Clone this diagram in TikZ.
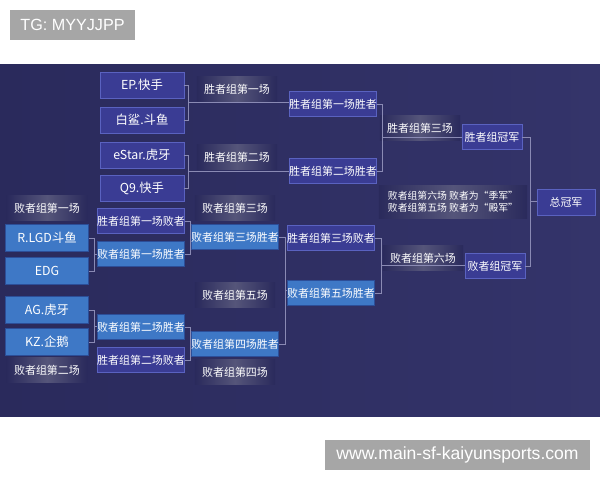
\documentclass[tikz,border=0pt]{standalone}
\usepackage{fontspec}
\setmainfont{Noto Sans CJK SC}
\newfontfamily\tagfont{Liberation Sans}
\usetikzlibrary{calc}
\definecolor{panelbg}{HTML}{2A2A5C}
\definecolor{panelbgr}{HTML}{34346A}
\definecolor{winfill}{HTML}{3A3C94}
\definecolor{windraw}{HTML}{5A62C0}
\definecolor{losefill}{HTML}{3E78C6}
\definecolor{losedraw}{HTML}{2C4E98}
\definecolor{glowc}{HTML}{55557A}
\definecolor{linec}{HTML}{8A8AB4}
\definecolor{tagfill}{HTML}{A6A6A6}

\begin{document}
\begin{tikzpicture}[
  x=0.025cm, y=-0.025cm,
  font=\fontsize{7.8}{9.5}\selectfont, text=white,
  winbox/.style={rectangle, minimum height=6.3mm, minimum width=21mm, inner sep=0pt, draw=windraw, fill=winfill, line width=0.6pt},
  losebox/.style={winbox, draw=losedraw, fill=losefill},
  teamwin/.style={winbox, minimum height=6.5mm, font=\fontsize{8.8}{10}\selectfont},
  teamlose/.style={losebox, minimum height=6.6mm, minimum width=20.8mm, font=\fontsize{8.8}{10}\selectfont},
  roundlbl/.style={rectangle, minimum height=6mm, minimum width=20mm, inner sep=0pt, left color=panelbg, right color=panelbg, middle color=glowc},
  bline/.style={draw=linec, line width=0.5pt},
  tagbox/.style={rectangle, inner sep=0pt, minimum height=7.5mm, fill=tagfill, text=white}
]
\useasboundingbox (0,0) rectangle (600,480);
\shade[left color=panelbg, right color=panelbgr] (0,64) rectangle (600,416);

\node[tagbox, minimum width=31.25mm, font=\tagfont\fontsize{11.5}{12}\selectfont] (tag) at (72.5,25) {TG: MYYJJPP};
\node[tagbox, minimum width=66.25mm, font=\tagfont\fontsize{12.5}{13}\selectfont] (site) at (457.5,455) {www.main-sf-kaiyunsports.com};

\node[teamwin] (ep) at (142,85) {EP.快手};
\node[teamwin] (bs) at (142,120) {白鲨.斗鱼};
\node[teamwin] (es) at (142,155) {eStar.虎牙};
\node[teamwin] (q9) at (142,188) {Q9.快手};
\node[teamlose] (rlgd) at (47,238) {R.LGD斗鱼};
\node[teamlose] (edg) at (47,271) {EDG};
\node[teamlose] (ag) at (47,310) {AG.虎牙};
\node[teamlose] (kz) at (47,342) {KZ.企鹅};

\node[winbox] (wl1) at (141,221) {胜者组第一场败者};
\node[losebox] (lw1) at (141,254) {败者组第一场胜者};
\node[losebox] (lw2) at (141,327) {败者组第二场胜者};
\node[winbox] (wl2) at (141,360) {胜者组第二场败者};
\node[losebox] (lw3) at (235,237) {败者组第三场胜者};
\node[losebox] (lw4) at (235,344) {败者组第四场胜者};

\node[winbox, minimum width=21.8mm] (ww1) at (333,104) {胜者组第一场胜者};
\node[winbox, minimum width=21.8mm] (ww2) at (333,171) {胜者组第二场胜者};
\node[winbox] (wl3) at (331,238) {胜者组第三场败者};
\node[losebox] (lw5) at (331,293) {败者组第五场胜者};

\node[winbox, minimum width=15mm] (wchamp) at (492,137) {胜者组冠军};
\node[winbox, minimum width=15mm] (lchamp) at (495,266) {败者组冠军};
\node[winbox, minimum width=14.5mm, minimum height=6.5mm] (champ) at (566,202) {总冠军};

\node[roundlbl] (r1) at (237,89) {胜者组第一场};
\node[roundlbl] (r2) at (237,157) {胜者组第二场};
\node[roundlbl] (r3) at (420,128) {胜者组第三场};
\node[roundlbl] (lr1) at (47,208) {败者组第一场};
\node[roundlbl] (lr2) at (47,370) {败者组第二场};
\node[roundlbl] (lr3) at (235,208) {败者组第三场};
\node[roundlbl] (lr5) at (235,295) {败者组第五场};
\node[roundlbl] (lr4) at (235,372) {败者组第四场};
\node[roundlbl] (lr6) at (423,258) {败者组第六场};
\node[roundlbl, minimum width=37mm, minimum height=8mm, align=center, font=\fontsize{7}{8.5}\selectfont] (note) at (453,202) {败者组第六场 败者为“季军”\\败者组第五场 败者为“殿军”};

\coordinate (b1) at ($(ep.east)!0.5!(bs.east)+(4,0)$);
\draw[bline] (ep.east) -| (b1) |- (bs.east);
\draw[bline] (b1) -- (b1 -| ww1.west);
\coordinate (b2) at ($(es.east)!0.5!(q9.east)+(4,0)$);
\draw[bline] (es.east) -| (b2) |- (q9.east);
\draw[bline] (b2) -- (b2 -| ww2.west);
\coordinate (b3) at ($(ww1.east)!0.5!(ww2.east)+(5,0)$);
\draw[bline] (ww1.east) -| (b3) |- (ww2.east);
\draw[bline] (b3) -- (b3 -| wchamp.west);
\coordinate (b4) at ($(rlgd.east)!0.5!(edg.east)+(5,0)$);
\draw[bline] (rlgd.east) -| (b4) |- (edg.east);
\draw[bline] (b4) -- (b4 -| lw1.west);
\coordinate (b5) at ($(ag.east)!0.5!(kz.east)+(5,0)$);
\draw[bline] (ag.east) -| (b5) |- (kz.east);
\draw[bline] (b5) -- (b5 -| lw2.west);
\coordinate (b6) at ($(wl1.east)!0.5!(lw1.east)+(5,0)$);
\draw[bline] (wl1.east) -| (b6) |- (lw1.east);
\draw[bline] (b6) -- (b6 -| lw3.west);
\coordinate (b7) at ($(lw2.east)!0.5!(wl2.east)+(5,0)$);
\draw[bline] (lw2.east) -| (b7) |- (wl2.east);
\draw[bline] (b7) -- (b7 -| lw4.west);
\coordinate (b8) at ($(lw3.east)!0.5!(lw4.east)+(6,0)$);
\draw[bline] (lw3.east) -| (b8) |- (lw4.east);
\draw[bline] (b8) -- (b8 -| lw5.west);
\coordinate (b9) at ($(wl3.east)!0.5!(lw5.east)+(6,0)$);
\draw[bline] (wl3.east) -| (b9) |- (lw5.east);
\draw[bline] (b9) -- (b9 -| lchamp.west);
\coordinate (b10) at ($(wchamp.east)!0.5!(lchamp.east)+(6,0)$);
\draw[bline] (wchamp.east) -| (b10) |- (lchamp.east);
\draw[bline] (b10) -- (b10 -| champ.west);
\end{tikzpicture}
\end{document}
